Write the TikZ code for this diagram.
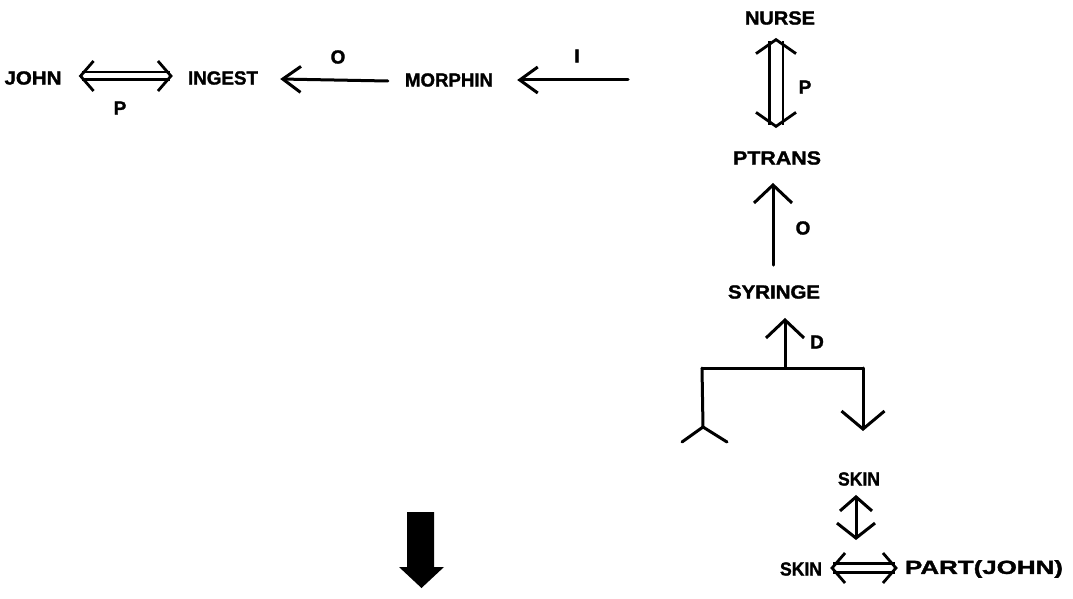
\documentclass[tikz,border=0pt]{standalone}
\usepackage{fontspec}
\setmainfont{Liberation Sans}
\newfontfamily\plotterfont[FakeBold=1.5]{Liberation Sans}
\usetikzlibrary{arrows.meta}
% a word squeezed or stretched to a given width, height kept
\newcommand{\cdword}[2]{\resizebox{#1pt}{\height}{#2}}
\tikzset{
  word/.style={inner sep=0pt, font=\fontsize{19}{21}\plotterfont\bfseries},
  rel/.style={inner sep=0pt, font=\fontsize{19}{21}\plotterfont\bfseries},
  link/.style={line width=3pt, line cap=round, line join=round},
  barb/.style={link, -{Straight Barb[length=18pt, width=38pt, line width=3pt]}},
  smallbarb/.style={link, -{Straight Barb[length=18pt, width=26pt, line width=3pt]}},
  twoway/.style={link, {Straight Barb[length=14pt, width=32pt, line width=3pt]}-{Straight Barb[length=15pt, width=38pt, line width=3pt]}},
  dbl/.style={line width=2.6pt, double distance=#1,
    {Straight Barb[length=13pt, width=30pt, line width=2.8pt]}-{Straight Barb[length=13pt, width=30pt, line width=2.8pt]}},
  dblwide/.style={line width=2.6pt, double distance=#1,
    {Straight Barb[length=14pt, width=40pt, line width=2.8pt]}-{Straight Barb[length=14pt, width=40pt, line width=2.8pt]}},
}
\begin{document}
\begin{tikzpicture}[x=1pt, y=-1pt]
\useasboundingbox (0,0) rectangle (1073,599);

% concepts
\node[word] (john)    at (33,78)   {\cdword{57}{JOHN}};
\node[word] (ingest)  at (223,78)  {\cdword{70}{INGEST}};
\node[word] (morphin) at (449,80)  {\cdword{88}{MORPHIN}};
\node[word] (nurse)   at (780,18)  {\cdword{70}{NURSE}};
\node[word] (ptrans)  at (777,158) {\cdword{88}{PTRANS}};
\node[word] (syringe) at (774,292) {\cdword{92}{SYRINGE}};
\node[word] (skintop) at (859,479) {\cdword{42}{SKIN}};
\node[word] (skinbot) at (801,569) {\cdword{42}{SKIN}};
\node[word] (part)    at (984,569) {\cdword{158}{PART(JOHN)}};

% case labels
\node[rel] (lp1) at (120,108) {P};
\node[rel] (lo1) at (338,57)  {O};
\node[rel] (li)  at (577,56)  {I};
\node[rel] (lp2) at (805,87)  {P};
\node[rel] (lo2) at (803,228) {O};
\node[rel] (ld)  at (817,342) {D};

% free ends and branch points
\coordinate (ifree) at (628,80);
\coordinate (barL) at (702,368);
\coordinate (barR) at (863,368);
\coordinate (barM) at (785,368);
\coordinate (legL) at (703,427);
\coordinate (footL) at (682,442);
\coordinate (footR) at (727,442);
\coordinate (legR) at (863,431);
\coordinate (partof) at (856,540);

% top row (canvas y points up, so a downward shift is a negative yshift)
\draw[dbl=5pt] ([xshift=17pt,yshift=2pt]john.east) -- ([xshift=-15pt,yshift=2pt]ingest.west);
\draw[smallbarb] ([xshift=-17pt,yshift=-1pt]morphin.west) -- ([xshift=22pt,yshift=-1pt]ingest.east);
\draw[smallbarb] (ifree) -- ([xshift=24pt]morphin.east);

% right column
\draw[dblwide=11pt] ([yshift=-13pt,xshift=-4pt]nurse.south) -- ([yshift=23pt,xshift=-1pt]ptrans.north);
\draw[barb] ([yshift=20pt,xshift=-1pt]syringe.north) -- ([yshift=-18pt,xshift=-4pt]ptrans.south);
\draw[barb] (barM) -- ([yshift=-19pt,xshift=11pt]syringe.south);
\draw[link] (barL) -- (barR);
\draw[link] (barL) -- (legL);
\draw[link] (footL) -- (legL) -- (footR);
\draw[link, -{Straight Barb[length=18pt, width=43pt, line width=3pt]}] (barR) -- (legR);

% skin part of john
\draw[twoway] ([yshift=-9pt,xshift=-3pt]skintop.south) -- (partof);
\draw[dbl=6pt] ([xshift=8pt,yshift=1pt]skinbot.east) -- ([xshift=-7pt,yshift=1pt]part.west);

% heavy arrow
\fill (407,512) -- (434,512) -- (434,567) -- (444,567) -- (421.5,588)
      -- (399,567) -- (407,567) -- cycle;
\end{tikzpicture}
\end{document}
